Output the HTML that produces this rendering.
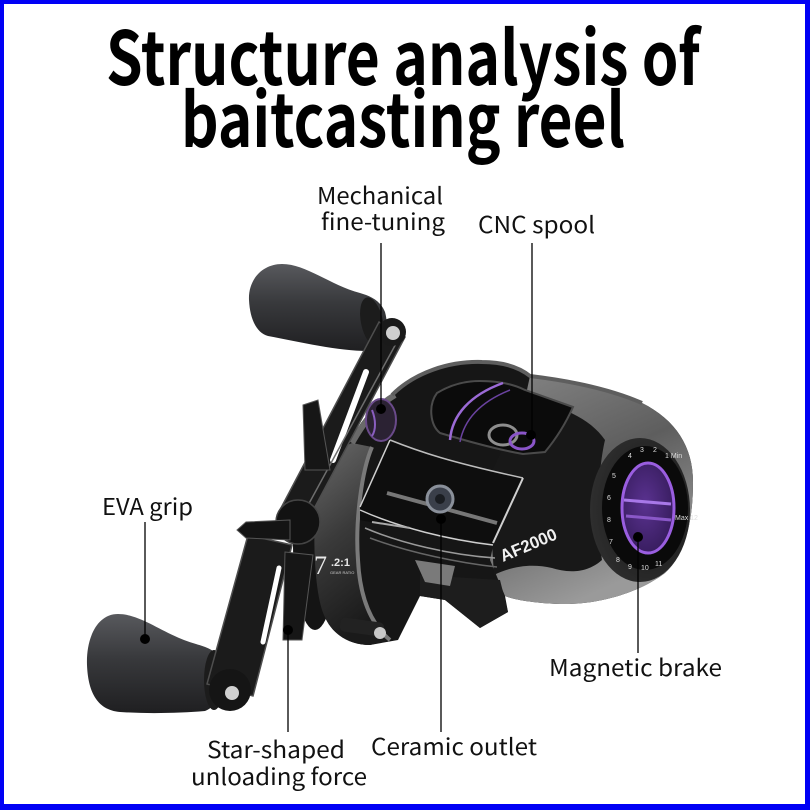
<!DOCTYPE html>
<html><head><meta charset="utf-8">
<style>
html,body{margin:0;padding:0;background:#fff;}
svg{display:block;}
</style></head>
<body>
<svg width="810" height="810" viewBox="0 0 810 810" xmlns="http://www.w3.org/2000/svg">
<defs>
 <linearGradient id="knob" x1="0" y1="0" x2="0" y2="1">
   <stop offset="0" stop-color="#58595d"/>
   <stop offset="0.45" stop-color="#38393c"/>
   <stop offset="1" stop-color="#1f1f21"/>
 </linearGradient>
 <linearGradient id="capg" x1="0" y1="0" x2="0.4" y2="1">
   <stop offset="0" stop-color="#858585"/>
   <stop offset="0.5" stop-color="#5e5e5e"/>
   <stop offset="1" stop-color="#9a9a9a"/>
 </linearGradient>
 <linearGradient id="plate" x1="0" y1="0" x2="0.3" y2="1">
   <stop offset="0" stop-color="#6a6a6a"/>
   <stop offset="0.5" stop-color="#3a3a3a"/>
   <stop offset="1" stop-color="#1a1a1a"/>
 </linearGradient>
 <radialGradient id="dialbg" cx="0.6" cy="0.5" r="0.6">
   <stop offset="0" stop-color="#141414"/>
   <stop offset="1" stop-color="#2e2e2e"/>
 </radialGradient>
 <radialGradient id="purple" cx="0.45" cy="0.45" r="0.65">
   <stop offset="0" stop-color="#5a3290"/>
   <stop offset="1" stop-color="#331a58"/>
 </radialGradient>
</defs>

<!-- background & border -->
<rect x="0" y="0" width="810" height="810" fill="#fff"/>
<rect x="0" y="0" width="810" height="4" fill="#0000f5"/>
<rect x="0" y="0" width="4" height="810" fill="#0000f5"/>
<rect x="805" y="0" width="5" height="810" fill="#0000f5"/>
<rect x="0" y="804" width="810" height="6" fill="#0000f5"/>

<!-- Title -->
<g font-family="'Noto Sans CJK SC','Liberation Sans',sans-serif" font-weight="700" fill="#000">
  <text x="106" y="85" font-size="74" textLength="594" lengthAdjust="spacingAndGlyphs">Structure analysis of</text>
  <text x="181" y="147" font-size="74" textLength="444" lengthAdjust="spacingAndGlyphs">baitcasting reel</text>
</g>

<!-- ===== REEL ===== -->
<!-- lower knob -->
<path d="M118 614 C96 614 86 640 87 665 C88 690 96 710 120 712 C150 714 180 713 205 711 C222 704 226 680 221 660 C216 650 206 647 196 644 C166 636 142 614 118 614 Z" fill="url(#knob)"/>
<ellipse cx="214" cy="680" rx="10" ry="30" fill="#1c1c1c"/>

<!-- upper knob -->
<path d="M282 264 C262 264 248 280 249 300 C250 320 257 333 268 336 C300 342 338 351 368 351 C384 348 390 330 385 312 C380 300 370 296 360 293 C330 285 306 264 282 264 Z" fill="url(#knob)"/>
<ellipse cx="372" cy="322" rx="11" ry="25" fill="#1c1c1c" transform="rotate(-12 372 322)"/>

<!-- gear housing boss -->
<ellipse cx="315" cy="545" rx="22" ry="85" fill="#141414"/>

<!-- main body -->
<path d="M318 480 C322 462 335 450 350 442 C358 425 372 405 392 395 C415 372 450 361 482 362 C505 362 520 368 530 376 C572 381 612 390 642 403 C676 420 693 447 693 482 C693 522 685 555 665 573 C640 592 600 605 560 604 C535 603 515 600 505 596 L508 612 L480 628 L445 600 L420 596 L398 640 L370 645 C350 645 332 635 324 615 C313 590 312 520 318 480 Z" fill="#161616"/>

<!-- side plate face -->
<path d="M318 480 C322 462 335 450 352 443 L372 447 C362 470 355 520 358 560 C360 600 372 625 390 640 L370 645 C350 645 332 635 324 615 C313 590 312 520 318 480 Z" fill="url(#plate)"/>
<path d="M372 447 C362 470 355 520 358 560 C360 600 372 625 390 640" fill="none" stroke="#7a7a7a" stroke-width="4"/>
<path d="M352 443 C365 420 378 405 395 395" fill="none" stroke="#6a6a6a" stroke-width="6"/>
<text x="314" y="574" font-family="'Liberation Serif',serif" font-size="26" fill="#e8e8e8">7</text>
<text x="331" y="566" font-family="'Liberation Sans',sans-serif" font-size="11" font-weight="700" fill="#e8e8e8">.2:1</text>
<text x="330" y="574" font-family="'Liberation Sans',sans-serif" font-size="4" fill="#ccc">GEAR RATIO</text>

<!-- side plate clamp + screw -->
<rect x="340" y="620" width="44" height="14" rx="5" fill="#222" transform="rotate(8 362 627)"/>
<circle cx="380" cy="633" r="6" fill="#c8c8c8"/>

<!-- right cap grey -->
<path d="M530 376 C572 381 612 390 642 403 C676 420 693 447 693 482 C693 522 685 555 665 573 C640 592 600 605 560 604 C535 603 515 600 505 596 L490 560 L530 376 Z" fill="url(#capg)"/>
<!-- black area between frame and cap -->
<path d="M525 400 C560 405 590 418 605 440 C598 470 596 520 602 560 C585 575 565 572 552 568 C530 563 510 567 494 575 L488 480 Z" fill="#181818"/>
<ellipse cx="640" cy="510" rx="50" ry="72" fill="url(#dialbg)"/>
<!-- dial -->
<ellipse cx="645" cy="508" rx="43" ry="62" fill="#0a0a0a"/>
<g font-family="'Liberation Sans',sans-serif" font-size="7" fill="#ddd">
  <text x="628" y="458">4</text><text x="640" y="452">3</text><text x="653" y="452">2</text><text x="665" y="458">1 Min</text>
  <text x="612" y="478">5</text><text x="607" y="500">6</text><text x="607" y="522">8</text><text x="609" y="544">7</text>
  <text x="616" y="562">8</text><text x="628" y="569">9</text><text x="641" y="570">10</text><text x="655" y="566">11</text>
  <text x="675" y="520">Max 12</text>
</g>
<ellipse cx="648" cy="508" rx="26" ry="45" fill="url(#purple)" stroke="#9a5ee0" stroke-width="3"/>
<path d="M624 500 L671 504" stroke="#a878e8" stroke-width="3"/>
<path d="M626 516 L671 520" stroke="#8a58c8" stroke-width="3"/>

<!-- AF2000 -->
<text x="503" y="562" font-family="'Liberation Sans',sans-serif" font-weight="700" font-size="17" fill="#f0f0f0" textLength="60" lengthAdjust="spacingAndGlyphs" transform="rotate(-23 503 562)">AF2000</text>

<!-- top cover rim highlight -->
<path d="M392 395 C415 372 450 361 482 362 C505 362 520 368 530 376 C572 381 612 390 642 403" fill="none" stroke="#5e5e5e" stroke-width="4"/>

<!-- spool window -->
<path d="M437 393 C450 385 465 381 480 381 C500 381 515 385 525 390 L573 407 C565 425 555 440 545 452 L523 454 C500 450 470 442 440 433 C430 425 428 405 437 393 Z" fill="#0b0b0b" stroke="#4a4a4a" stroke-width="2"/>
<path d="M450 440 C452 415 470 395 503 383" fill="none" stroke="#9b6ad6" stroke-width="2.5"/>
<path d="M460 442 C464 420 480 402 510 390" fill="none" stroke="#6a42a0" stroke-width="1.5"/>
<ellipse cx="503" cy="435" rx="14" ry="10" fill="none" stroke="#8e8e8e" stroke-width="3"/>
<ellipse cx="522" cy="441" rx="12" ry="8" fill="none" stroke="#8a55c8" stroke-width="3"/>

<!-- front frame -->
<path d="M360 507 L390 440 C420 452 450 462 480 468 L523 478 L493 543 C450 538 400 528 360 520 Z" fill="#0e0e0e"/>
<path d="M360 507 L390 440" stroke="#d0d0d0" stroke-width="1.5"/>
<path d="M390 440 C420 452 450 462 523 478" stroke="#bdbdbd" stroke-width="1.5" fill="none"/>
<path d="M523 478 L493 543" stroke="#d0d0d0" stroke-width="2"/>
<path d="M360 510 C400 528 450 540 493 545" stroke="#cfcfcf" stroke-width="1.5" fill="none"/>
<path d="M387 493 L497 523" stroke="#777" stroke-width="4"/>
<path d="M372 522 L410 528" stroke="#aaa" stroke-width="2"/>
<circle cx="440" cy="499" r="13" fill="#3a3f4a" stroke="#8a909a" stroke-width="3"/>
<circle cx="440" cy="499" r="5" fill="#1a1d22"/>
<path d="M365 528 C400 543 450 555 495 558" stroke="#9a9a9a" stroke-width="1.5" fill="none"/>
<path d="M370 538 C410 553 460 563 497 567" stroke="#666" stroke-width="1.5" fill="none"/>

<!-- foot -->
<path d="M420 575 L500 580 L508 612 L480 628 L445 600 L420 596 Z" fill="#1d1d1d"/>
<path d="M415 560 L455 566 L450 586 L425 582 Z" fill="#7a7a7a"/>

<!-- fine-tuning knob -->
<ellipse cx="381" cy="420" rx="15" ry="21" fill="#2b2233" stroke="#6a4a8a" stroke-width="2"/>
<path d="M372 410 C376 420 376 430 372 436" stroke="#8a5ec0" stroke-width="2" fill="none"/>

<!-- handle arm (upper) -->
<polygon points="405,337 379,322 281,508 307,522" fill="#1b1b1b" stroke="#4e4e4e" stroke-width="1.5"/>
<line x1="366" y1="372" x2="333" y2="460" stroke="#fff" stroke-width="6" stroke-linecap="round"/>
<line x1="398" y1="340" x2="300" y2="520" stroke="#6e6e6e" stroke-width="1.5"/>
<!-- upper pivot -->
<circle cx="392" cy="332" r="14" fill="#1a1a1a"/>
<circle cx="393" cy="333" r="7" fill="#cfcfcf"/>

<!-- lower arm -->
<polygon points="292,545 248,535 207,684 253,696" fill="#1b1b1b" stroke="#4e4e4e" stroke-width="1.5"/>
<line x1="279" y1="568" x2="263" y2="642" stroke="#fff" stroke-width="5" stroke-linecap="round"/>
<circle cx="230" cy="690" r="21" fill="#151515"/>
<circle cx="232" cy="693" r="7" fill="#d0d0d0"/>

<!-- star drag -->
<circle cx="298" cy="522" r="22" fill="#121212" stroke="#444" stroke-width="1.5"/>
<polygon points="290,520 246,522 237,530 246,538 290,540" fill="#141414" stroke="#555" stroke-width="1"/>
<polygon points="303,405 318,400 330,470 305,470" fill="#161616" stroke="#555" stroke-width="1"/>
<polygon points="285,552 313,555 302,640 283,640" fill="#161616" stroke="#555" stroke-width="1"/>

<!-- ===== leader lines ===== -->
<g stroke="#000" stroke-width="1.3">
  <line x1="381" y1="243" x2="381" y2="410"/>
  <line x1="532" y1="243" x2="532" y2="435"/>
  <line x1="145" y1="522" x2="145" y2="639"/>
  <line x1="288" y1="630" x2="288" y2="732"/>
  <line x1="441" y1="519" x2="441" y2="732"/>
  <line x1="638" y1="537" x2="638" y2="653"/>
</g>
<g fill="#000">
  <circle cx="381" cy="409" r="5"/>
  <circle cx="531" cy="435" r="5"/>
  <circle cx="145" cy="639" r="5"/>
  <circle cx="288" cy="630" r="5"/>
  <circle cx="441" cy="519" r="5"/>
  <circle cx="638" cy="537" r="5"/>
</g>

<!-- labels -->
<g font-family="'Noto Sans CJK SC','Liberation Sans',sans-serif" font-size="23" fill="#111">
  <text x="317" y="204" textLength="126" lengthAdjust="spacingAndGlyphs">Mechanical</text>
  <text x="321" y="230" textLength="124" lengthAdjust="spacingAndGlyphs">fine-tuning</text>
  <text x="478" y="233" textLength="117" lengthAdjust="spacingAndGlyphs">CNC spool</text>
  <text x="102" y="515" textLength="91" lengthAdjust="spacingAndGlyphs">EVA grip</text>
  <text x="549" y="676" textLength="173" lengthAdjust="spacingAndGlyphs">Magnetic brake</text>
  <text x="207" y="758" textLength="138" lengthAdjust="spacingAndGlyphs">Star-shaped</text>
  <text x="191" y="785" textLength="176" lengthAdjust="spacingAndGlyphs">unloading force</text>
  <text x="371" y="755" textLength="166" lengthAdjust="spacingAndGlyphs">Ceramic outlet</text>
</g>
</svg>
</body></html>
